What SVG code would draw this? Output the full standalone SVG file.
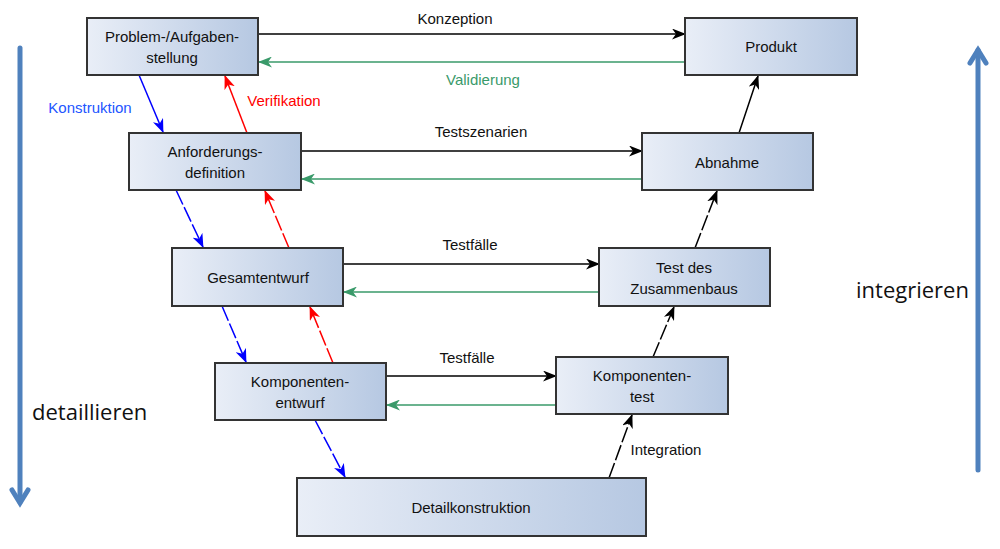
<svg xmlns="http://www.w3.org/2000/svg" width="1000" height="549" viewBox="0 0 1000 549">
<defs>
<linearGradient id="g" x1="0" y1="0" x2="1" y2="0">
<stop offset="0" stop-color="#e9eef7"/>
<stop offset="1" stop-color="#b6c8e2"/>
</linearGradient>
<marker id="ak" viewBox="0 0 14 11" refX="13" refY="5.5" markerWidth="14" markerHeight="11" markerUnits="userSpaceOnUse" orient="auto"><path d="M0,0 L14,5.5 L0,11 L4,5.5 Z" fill="#000"/></marker>
<marker id="ag" viewBox="0 0 14 11" refX="13" refY="5.5" markerWidth="14" markerHeight="11" markerUnits="userSpaceOnUse" orient="auto"><path d="M0,0 L14,5.5 L0,11 L4,5.5 Z" fill="#3a9a6a"/></marker>
<marker id="ab" viewBox="0 0 14 11" refX="13" refY="5.5" markerWidth="14" markerHeight="11" markerUnits="userSpaceOnUse" orient="auto"><path d="M0,0 L14,5.5 L0,11 L4,5.5 Z" fill="#0000ff"/></marker>
<marker id="ar" viewBox="0 0 14 11" refX="13" refY="5.5" markerWidth="14" markerHeight="11" markerUnits="userSpaceOnUse" orient="auto"><path d="M0,0 L14,5.5 L0,11 L4,5.5 Z" fill="#ff0000"/></marker>
</defs>
<style>
.box{fill:url(#g);stroke:#333;stroke-width:2}
.t{font-family:"Liberation Sans",Arial,sans-serif;font-size:15px;fill:#111;text-anchor:middle}
.k{stroke:#000;stroke-width:1.5;fill:none;marker-end:url(#ak)}
.gr{stroke:#3a9a6a;stroke-width:1.5;fill:none;marker-end:url(#ag)}
.bl{stroke:#0000ff;stroke-width:1.5;fill:none;marker-end:url(#ab)}
.rd{stroke:#ff0000;stroke-width:1.5;fill:none;marker-end:url(#ar)}
.d{stroke-dasharray:16 3}
.big{stroke:#4f81bd;stroke-width:5;fill:none;stroke-linecap:round}
.side{font-family:"Open Sans","Liberation Sans",sans-serif;font-size:22px;fill:#111}
</style>
<rect width="1000" height="549" fill="#fff"/>
<g id="connectors">
<line class="k" x1="258" y1="34" x2="685" y2="34"/>
<line class="gr" x1="685" y1="62" x2="259" y2="62"/>
<line class="k" x1="301" y1="151" x2="642" y2="151"/>
<line class="gr" x1="642" y1="179" x2="302" y2="179"/>
<line class="k" x1="343" y1="264" x2="599" y2="264"/>
<line class="gr" x1="599" y1="292" x2="344" y2="292"/>
<line class="k" x1="386" y1="376" x2="556" y2="376"/>
<line class="gr" x1="556" y1="405" x2="387" y2="405"/>
<line class="bl" x1="139" y1="75" x2="163" y2="132"/>
<line class="bl d" x1="176" y1="190" x2="203" y2="247"/>
<line class="bl d" x1="222" y1="306" x2="246" y2="362"/>
<line class="bl d" x1="315" y1="420" x2="345" y2="477"/>
<line class="rd" x1="247" y1="133" x2="225" y2="76"/>
<line class="rd d" x1="289" y1="248" x2="265" y2="191"/>
<line class="rd d" x1="333" y1="363" x2="310" y2="307"/>
<line class="k d" x1="609" y1="478" x2="632" y2="415"/>
<line class="k d" x1="653" y1="357" x2="674" y2="307"/>
<line class="k d" x1="695" y1="248" x2="717" y2="191"/>
<line class="k" x1="739" y1="133" x2="758" y2="76"/>
<text class="t" x="455" y="24">Konzeption</text>
<text class="t" x="483" y="85" style="fill:#3a9a6a">Validierung</text>
<text class="t" x="481" y="137">Testszenarien</text>
<text class="t" x="470" y="250">Testfälle</text>
<text class="t" x="467" y="363">Testfälle</text>
<text class="t" x="90" y="113" style="fill:#2255ff">Konstruktion</text>
<text class="t" x="284" y="106" style="fill:#ff0000">Verifikation</text>
<text class="t" x="666" y="455">Integration</text>
</g>
<g id="n-problem"><rect class="box" x="87" y="18" width="171" height="57"/><text class="t" x="172" y="42">Problem-/Aufgaben-</text><text class="t" x="172" y="63">stellung</text></g>
<g id="n-produkt"><rect class="box" x="685" y="18" width="172" height="57"/><text class="t" x="771" y="52">Produkt</text></g>
<g id="n-anforderung"><rect class="box" x="129" y="133" width="172" height="57"/><text class="t" x="215" y="157">Anforderungs-</text><text class="t" x="215" y="178">definition</text></g>
<g id="n-abnahme"><rect class="box" x="642" y="133" width="171" height="57"/><text class="t" x="727" y="168">Abnahme</text></g>
<g id="n-gesamt"><rect class="box" x="172" y="248" width="171" height="58"/><text class="t" x="258" y="283">Gesamtentwurf</text></g>
<g id="n-zusammenbau"><rect class="box" x="599" y="248" width="171" height="58"/><text class="t" x="684" y="273">Test des</text><text class="t" x="684" y="294">Zusammenbaus</text></g>
<g id="n-kompentwurf"><rect class="box" x="215" y="363" width="171" height="57"/><text class="t" x="300" y="387">Komponenten-</text><text class="t" x="300" y="408">entwurf</text></g>
<g id="n-komptest"><rect class="box" x="556" y="357" width="172" height="57"/><text class="t" x="642" y="381">Komponenten-</text><text class="t" x="642" y="402">test</text></g>
<g id="n-detail"><rect class="box" x="297" y="478" width="349" height="58"/><text class="t" x="471" y="513">Detailkonstruktion</text></g>
<g id="side-arrows">
<line class="big" x1="20" y1="48" x2="20" y2="502"/>
<polyline class="big" points="12,490 20,503 28,490"/>
<line class="big" x1="978" y1="470" x2="978" y2="50"/>
<polyline class="big" points="970,63 978,50 986,63"/>
<text class="side" x="32" y="420">detaillieren</text>
<text class="side" x="856" y="298">integrieren</text>
</g>
</svg>
